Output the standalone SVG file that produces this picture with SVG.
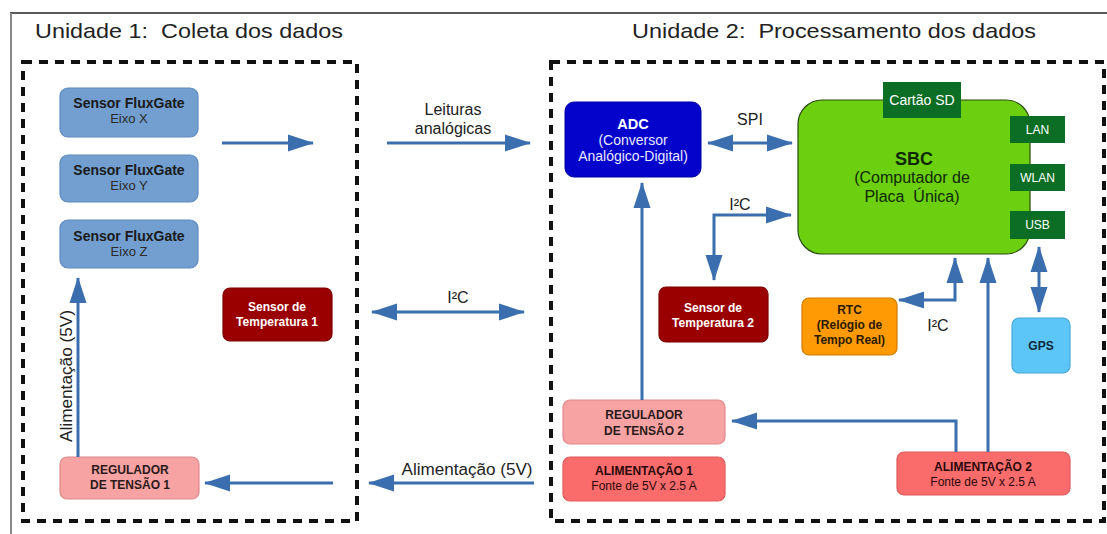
<svg xmlns="http://www.w3.org/2000/svg" width="1107" height="534" viewBox="0 0 1107 534">
<defs>
<marker id="ah" markerUnits="userSpaceOnUse" markerWidth="27" markerHeight="19" refX="25" refY="9.5" orient="auto-start-reverse">
<path d="M0,1 L26,9.5 L0,18 Z" fill="#3a6eae"/>
</marker>
<style>
.t{font-family:"Liberation Sans",Arial,sans-serif;}
.title{font-size:21px;fill:#222;white-space:pre;}
.lbl{font-size:16px;fill:#222;text-anchor:middle;}
.c{text-anchor:middle;}
.b{font-weight:bold;}
.dash{fill:none;stroke:#111;stroke-width:4;stroke-dasharray:9 7;}
.con{fill:none;stroke:#3a6eae;stroke-width:3;}
.fg{fill:#729fcf;stroke:#5f8cc0;stroke-width:1.2;}
.temp{fill:#9b0000;stroke:#7a0000;stroke-width:1.2;}
.reg{fill:#f7a3a3;stroke:#e08a8a;stroke-width:1.2;}
.ali{fill:#fa6b6b;stroke:#e05a5a;stroke-width:1.2;}
.dg{fill:#0b6e24;}
</style>
</defs>
<rect width="1107" height="534" fill="#fff"/>
<line x1="10" y1="13" x2="1107" y2="13" stroke="#222" stroke-width="1.5"/>
<line x1="11" y1="13" x2="11" y2="534" stroke="#888" stroke-width="2"/>

<text class="t title" xml:space="preserve" x="35" y="38" textLength="308" lengthAdjust="spacingAndGlyphs">Unidade 1:  Coleta dos dados</text>
<text class="t title" xml:space="preserve" x="632" y="38" textLength="404" lengthAdjust="spacingAndGlyphs">Unidade 2:  Processamento dos dados</text>

<rect class="dash" x="23" y="62" width="334" height="459"/>
<rect class="dash" x="551" y="62" width="553" height="459"/>

<g id="fluxgate-x">
<rect class="fg" x="60" y="88" width="138" height="49" rx="8"/>
<text class="t c b" x="129" y="108" font-size="14" fill="#1a1a1a">Sensor FluxGate</text>
<text class="t c" x="129" y="123" font-size="13" fill="#2a2a2a">Eixo X</text>
</g>
<g id="fluxgate-y">
<rect class="fg" x="60" y="155" width="138" height="47" rx="8"/>
<text class="t c b" x="129" y="175" font-size="14" fill="#1a1a1a">Sensor FluxGate</text>
<text class="t c" x="129" y="190" font-size="13" fill="#2a2a2a">Eixo Y</text>
</g>
<g id="fluxgate-z">
<rect class="fg" x="60" y="220" width="138" height="48" rx="8"/>
<text class="t c b" x="129" y="241" font-size="14" fill="#1a1a1a">Sensor FluxGate</text>
<text class="t c" x="129" y="256" font-size="13" fill="#2a2a2a">Eixo Z</text>
</g>
<g id="temp1">
<rect class="temp" x="223" y="288" width="109" height="53" rx="7"/>
<text class="t c b" x="277" y="311" font-size="12" fill="#fff">Sensor de</text>
<text class="t c b" x="277" y="326" font-size="12" fill="#fff">Temperatura 1</text>
</g>
<g id="reg1">
<rect class="reg" x="60" y="457" width="139" height="42" rx="7"/>
<text class="t c b" x="130" y="474" font-size="12" fill="#2a1a1a">REGULADOR</text>
<text class="t c b" x="130" y="489" font-size="12" fill="#2a1a1a">DE TENSÃO 1</text>
</g>

<g id="adc">
<rect x="565" y="102" width="136" height="75" rx="9" fill="#0303cc" stroke="#0000a0" stroke-width="1"/>
<text class="t c b" x="633" y="129" font-size="14.5" fill="#fff">ADC</text>
<text class="t c" x="633" y="145" font-size="14" fill="#e8e8ff">(Conversor</text>
<text class="t c" x="633" y="161" font-size="14" fill="#e8e8ff">Analógico-Digital)</text>
</g>
<g id="sbc">
<rect x="798" y="100" width="232" height="154" rx="24" fill="#6ccf10" stroke="#2a4a10" stroke-width="1.2"/>
<text class="t c b" x="914" y="165" font-size="18" fill="#0e2a05">SBC</text>
<text class="t c" x="912" y="183" font-size="16" fill="#0e2a05">(Computador de</text>
<text class="t c" xml:space="preserve" x="912" y="202" font-size="16" fill="#0e2a05" style="white-space:pre">Placa  Única)</text>
</g>
<g id="sd">
<rect class="dg" x="883" y="82" width="78" height="36"/>
<text class="t c" x="922" y="105" font-size="14" fill="#fff">Cartão SD</text>
</g>
<g id="lan">
<rect class="dg" x="1010" y="116" width="55" height="27"/>
<text class="t c" x="1037.5" y="134" font-size="12" fill="#fff">LAN</text>
</g>
<g id="wlan">
<rect class="dg" x="1010" y="164" width="55" height="27"/>
<text class="t c" x="1037.5" y="182" font-size="12" fill="#fff">WLAN</text>
</g>
<g id="usb">
<rect class="dg" x="1010" y="211" width="55" height="28"/>
<text class="t c" x="1037.5" y="229" font-size="12" fill="#fff">USB</text>
</g>
<g id="temp2">
<rect class="temp" x="659" y="287" width="109" height="55" rx="7"/>
<text class="t c b" x="713" y="312" font-size="12" fill="#fff">Sensor de</text>
<text class="t c b" x="713" y="327" font-size="12" fill="#fff">Temperatura 2</text>
</g>
<g id="rtc">
<rect x="802" y="298" width="95" height="57" rx="7" fill="#ff9a05" stroke="#d07a00" stroke-width="1.2"/>
<text class="t c b" x="849.5" y="314" font-size="12" fill="#2a1a00">RTC</text>
<text class="t c b" x="849.5" y="329" font-size="12" fill="#2a1a00">(Relógio de</text>
<text class="t c b" x="849.5" y="344" font-size="12" fill="#2a1a00">Tempo Real)</text>
</g>
<g id="gps">
<rect x="1012" y="318" width="58" height="55" rx="7" fill="#5cc6f8" stroke="#48a8d8" stroke-width="1.2"/>
<text class="t c b" x="1041" y="350" font-size="12" fill="#10283a">GPS</text>
</g>
<g id="reg2">
<rect class="reg" x="563" y="400" width="162" height="44" rx="7"/>
<text class="t c b" x="644" y="419" font-size="12" fill="#2a1a1a">REGULADOR</text>
<text class="t c b" x="644" y="435" font-size="12" fill="#2a1a1a">DE TENSÃO 2</text>
</g>
<g id="ali1">
<rect class="ali" x="563" y="457" width="162" height="44" rx="7"/>
<text class="t c b" x="644" y="475" font-size="12" fill="#2a0a0a">ALIMENTAÇÃO 1</text>
<text class="t c" x="644" y="490" font-size="12" fill="#2a0a0a">Fonte de 5V x 2.5 A</text>
</g>
<g id="ali2">
<rect class="ali" x="897" y="452" width="173" height="43" rx="7"/>
<text class="t c b" x="983" y="471" font-size="12" fill="#2a0a0a">ALIMENTAÇÃO 2</text>
<text class="t c" x="983" y="486" font-size="12" fill="#2a0a0a">Fonte de 5V x 2.5 A</text>
</g>

<g id="connectors">
<path class="con" d="M222,143 L313,143" marker-end="url(#ah)"/>
<path class="con" d="M387,143 L530,143" marker-end="url(#ah)"/>
<path class="con" d="M708,143 L792,143" marker-start="url(#ah)" marker-end="url(#ah)"/>
<path class="con" d="M372,312 L524,312" marker-start="url(#ah)" marker-end="url(#ah)"/>
<path class="con" d="M534,483 L369,483" marker-end="url(#ah)"/>
<path class="con" d="M333,483 L205,483" marker-end="url(#ah)"/>
<path class="con" d="M78,457 L78,278" marker-end="url(#ah)"/>
<path class="con" d="M642,400 L642,183" marker-end="url(#ah)"/>
<path class="con" d="M791,215 L714,215 L714,280" marker-start="url(#ah)" marker-end="url(#ah)"/>
<path class="con" d="M955,258 L955,300 L899,300" marker-start="url(#ah)" marker-end="url(#ah)"/>
<path class="con" d="M988,452 L988,258" marker-end="url(#ah)"/>
<path class="con" d="M956,452 L956,421 L732,421" marker-end="url(#ah)"/>
<path class="con" d="M1039,247 L1039,312" marker-start="url(#ah)" marker-end="url(#ah)"/>
</g>

<g id="labels">
<text class="t lbl" x="453" y="115">Leituras</text>
<text class="t lbl" x="453" y="134">analógicas</text>
<text class="t lbl" x="750" y="125" font-size="17">SPI</text>
<text class="t lbl" x="458" y="303" font-size="18">I²C</text>
<text class="t lbl" x="740" y="210" font-size="16">I²C</text>
<text class="t lbl" x="938" y="331" font-size="16">I²C</text>
<text class="t lbl" x="467" y="475" textLength="131" lengthAdjust="spacingAndGlyphs">Alimentação (5V)</text>
<text class="t lbl" x="0" y="0" transform="translate(72,376) rotate(-90)" textLength="132" lengthAdjust="spacingAndGlyphs">Alimentação (5V)</text>
</g>
</svg>
